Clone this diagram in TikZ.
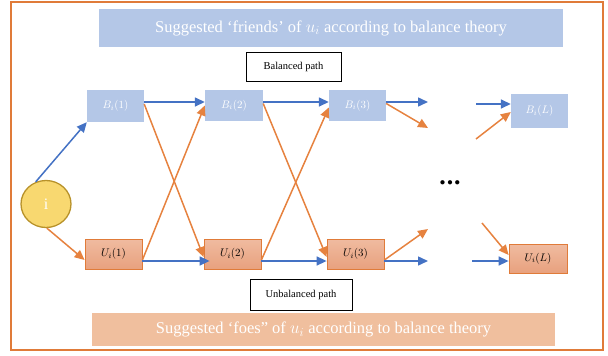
\documentclass[tikz,border=0pt]{standalone}
\usepackage{fontspec}
\setmainfont{Liberation Serif}
\usetikzlibrary{arrows.meta,shapes.geometric}
\definecolor{frameor}{HTML}{E07B39}
\definecolor{arrblue}{HTML}{4472C4}
\definecolor{arror}{HTML}{E6823F}
\definecolor{lblue}{HTML}{B4C7E7}
\definecolor{banor}{HTML}{F0BF9E}
\definecolor{utop}{HTML}{F0BBA0}
\definecolor{ubot}{HTML}{E8A17E}
\definecolor{circfill}{HTML}{F8D870}
\definecolor{circdraw}{HTML}{B8922A}
\tikzset{
  bbox/.style={rectangle, fill=lblue, text=white, minimum width=57pt, minimum height=32pt, inner sep=0pt, font=\fontsize{11}{13}\selectfont},
  ubox/.style={rectangle, draw=frameor, line width=0.8pt, top color=utop, bottom color=ubot, text=black, minimum width=57pt, minimum height=30pt, inner sep=0pt, font=\fontsize{11}{13}\selectfont},
  lbox/.style={rectangle, draw=black, line width=0.8pt, fill=white, minimum width=95pt, minimum height=29pt, inner sep=0pt, font=\fontsize{10.5}{12}\selectfont},
  banner/.style={rectangle, text=white, inner sep=0pt, font=\fontsize{16.5}{19}\selectfont},
  barr/.style={draw=arrblue, line width=1.5pt, -{Triangle[length=10pt,width=9pt]}},
  oarr/.style={draw=arror, line width=1.5pt, -{Triangle[length=10pt,width=9pt]}},
}
\begin{document}
\begin{tikzpicture}[x=1pt,y=-1pt]
\useasboundingbox (0,0) rectangle (608,356);
\draw[frameor, line width=2pt] (11,2) rectangle (603,350);
\node[banner, fill=lblue, minimum width=464pt, minimum height=38pt] (top) at (331,28) {Suggested ‘friends’ of $u_i$ according to balance theory};
\node[banner, fill=banor, minimum width=463pt, minimum height=33pt] (bot) at (323.5,329.5) {Suggested ‘foes” of $u_i$ according to balance theory};
\node[lbox] (bal) at (293.5,66.5) {Balanced path};
\node[lbox, minimum width=102pt, minimum height=31pt] (unbal) at (301,294.5) {Unbalanced path};

\node[ellipse, fill=circfill, draw=circdraw, line width=1.3pt, minimum width=50pt, minimum height=47pt, text=white, font=\fontsize{16}{18}\selectfont] (i) at (46,204) {i};

\node[bbox] (B1) at (115.5,106) {$B_i(1)$};
\node[bbox, minimum width=58pt, minimum height=31pt] (B2) at (234,105.5) {$B_i(2)$};
\node[bbox, minimum height=31pt] (B3) at (357.5,105.5) {$B_i(3)$};
\node[bbox, minimum height=34pt] (BL) at (539.5,111) {$B_i(L)$};
\node[ubox] (U1) at (113.5,254) {$U_i(1)$};
\node[ubox] (U2) at (232.5,254) {$U_i(2)$};
\node[ubox] (U3) at (355.5,254) {$U_i(3)$};
\node[ubox, minimum width=58pt, minimum height=29pt] (UL) at (538,258.5) {$U_i(L)$};

\node[font=\fontsize{11}{11}\selectfont] (dots) at (450,183) {$\bullet\mkern-1mu\bullet\mkern-1mu\bullet$};

\coordinate (c1) at (428,102);
\coordinate (c2) at (428,128);
\coordinate (c3) at (428,229);
\coordinate (c4) at (428,261);
\coordinate (d1) at (476,104);
\coordinate (d2) at (476,139);
\coordinate (d3) at (482,223);
\coordinate (d4) at (472,261);

% from i
\draw[barr] (i.115) -- (B1.south west);
\draw[oarr] (i.-88) -- ([yshift=-6pt]U1.west);

% stage 1 -> 2
\draw[barr] ([yshift=4pt]B1.east) -- ([yshift=3.5pt]B2.west);
\draw[oarr] ([yshift=2pt]B1.east) -- ([yshift=-3pt]U2.west);
\draw[oarr] ([yshift=-6pt]U1.east) -- (B2.west);
\draw[barr] ([yshift=-7pt]U1.east) -- ([xshift=6pt,yshift=-7pt]U2.west);

% stage 2 -> 3
\draw[barr] ([yshift=3.5pt]B2.east) -- ([yshift=3.5pt]B3.west);
\draw[oarr] ([yshift=2pt]B2.east) -- ([yshift=-3pt]U3.west);
\draw[oarr] ([yshift=-6pt]U2.east) -- ([yshift=-2pt]B3.west);
\draw[barr] ([yshift=-7pt]U2.east) -- ([yshift=-7pt]U3.west);

% stage 3 -> ...
\draw[barr] ([yshift=3.5pt]B3.east) -- (c1);
\draw[oarr] ([yshift=2pt]B3.east) -- (c2);
\draw[oarr] ([yshift=-6pt]U3.east) -- (c3);
\draw[barr] ([yshift=-7pt]U3.east) -- (c4);

% ... -> L
\draw[barr] (d1) -- ([yshift=7pt]BL.west);
\draw[oarr] (d2) -- ([yshift=-1pt]BL.west);
\draw[oarr] (d3) -- ([yshift=3.5pt]UL.west);
\draw[barr] (d4) -- ([yshift=-2.5pt]UL.west);
\end{tikzpicture}
\end{document}
